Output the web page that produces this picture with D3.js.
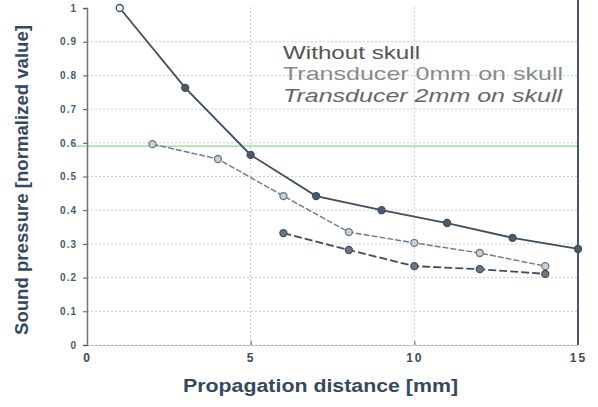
<!DOCTYPE html>
<html>
<head>
<meta charset="utf-8">
<script src="https://cdn.jsdelivr.net/npm/d3@7"></script>
<style>
  body { margin: 0; background: #fff; }
  text { font-family: "Liberation Sans", Arial, sans-serif; }
</style>
</head>
<body>
<div id="chart"></div>
<script>
// values
var seriesNames = ['Without skull', 'Transducer 0mm on skull', 'Transducer 2mm on skull'];
var withoutX = [1, 3, 5, 7, 9, 11, 13, 15];
var withoutY = [1.0, 0.763, 0.564, 0.442, 0.40, 0.362, 0.318, 0.285];
var t0X = [2, 4, 6, 8, 10, 12, 14];
var t0Y = [0.596, 0.552, 0.442, 0.335, 0.303, 0.273, 0.234];
var t2X = [6, 8, 10, 12, 14];
var t2Y = [0.332, 0.282, 0.234, 0.225, 0.211];
var xTicks = [0, 5, 10, 15];
var yTicks = [0, 0.1, 0.2, 0.3, 0.4, 0.5, 0.6, 0.7, 0.8, 0.9, 1];

var width = 598, height = 407;
var margin = {top: 8, right: 20, bottom: 62, left: 87};

var svg = d3.select('#chart').append('svg')
  .attr('width', width)
  .attr('height', height);

var x = d3.scaleLinear().domain([0, 15]).range([margin.left, width - margin.right]);
var y = d3.scaleLinear().domain([0, 1]).range([height - margin.bottom, margin.top]);

// grid
svg.append('g').selectAll('line')
  .data(yTicks.slice(1, -1))
  .enter().append('line')
  .attr('x1', x(0)).attr('x2', x(15))
  .attr('y1', function(d) { return y(d); })
  .attr('y2', function(d) { return y(d); })
  .attr('stroke', '#c8ccd0')
  .attr('stroke-dasharray', '2,2');

svg.append('g').selectAll('line')
  .data([5, 10])
  .enter().append('line')
  .attr('x1', function(d) { return x(d); })
  .attr('x2', function(d) { return x(d); })
  .attr('y1', y(0)).attr('y2', y(1) - 2)
  .attr('stroke', '#c8ccd0')
  .attr('stroke-dasharray', '2,2');

// green line
svg.append('line')
  .attr('x1', x(0) - 12).attr('x2', x(15))
  .attr('y1', y(0.59)).attr('y2', y(0.59))
  .attr('stroke', '#8ad88a')
  .attr('stroke-width', 1.2);

// axes
var xAxis = svg.append('g')
  .attr('transform', 'translate(0,' + y(0) + ')')
  .call(d3.axisBottom(x).tickValues(xTicks).tickSize(-4).tickPadding(8).tickFormat(d3.format('d')));
xAxis.select('.domain').attr('stroke', '#b0b4b8').attr('stroke-dasharray', '3,1');
xAxis.selectAll('.tick line').attr('stroke', '#555');
xAxis.selectAll('text')
  .attr('font-size', 12).attr('font-weight', 'bold').attr('fill', '#3c4a58')
  .attr('letter-spacing', 2);

var yAxis = svg.append('g')
  .attr('transform', 'translate(' + x(0) + ',0)')
  .call(d3.axisLeft(y).tickValues(yTicks).tickSize(4).tickPadding(6)
    .tickFormat(function(d) { return d === 0 || d === 1 ? d3.format('d')(d) : d3.format('.1f')(d); }));
yAxis.select('.domain').attr('stroke', '#6a7480').attr('stroke-width', 1.5);
yAxis.selectAll('.tick line').attr('stroke', '#555');
yAxis.selectAll('text')
  .attr('font-size', 10).attr('font-weight', 'bold').attr('fill', '#4a5a6a')
  .attr('letter-spacing', 1);

// right border
svg.append('line')
  .attr('x1', x(15)).attr('x2', x(15))
  .attr('y1', 0).attr('y2', y(0))
  .attr('stroke', '#4a5664')
  .attr('stroke-width', 2);

// series
var line = d3.line()
  .x(function(d) { return x(d[0]); })
  .y(function(d) { return y(d[1]); });

var series = [
  {xs: withoutX, ys: withoutY, color: '#3e4e5e', dash: null, fill: '#4a5a6a', width: 1.8},
  {xs: t0X, ys: t0Y, color: '#6a7886', dash: '6,2', fill: '#c8d0d8', width: 1.4},
  {xs: t2X, ys: t2Y, color: '#3e4e5e', dash: '8,3', fill: '#6a7886', width: 1.8}
];

series.forEach(function(s) {
  var pts = s.xs.map(function(v, i) { return [v, s.ys[i]]; });
  svg.append('path')
    .datum(pts)
    .attr('d', line)
    .attr('fill', 'none')
    .attr('stroke', s.color)
    .attr('stroke-width', s.width)
    .attr('stroke-dasharray', s.dash);
  svg.append('g').selectAll('circle')
    .data(pts)
    .enter().append('circle')
    .attr('cx', function(d) { return x(d[0]); })
    .attr('cy', function(d) { return y(d[1]); })
    .attr('r', 3.5)
    .attr('fill', function(d, i) { return (s === series[0] && i === 0) ? '#fff' : s.fill; })
    .attr('stroke', s.color)
    .attr('stroke-width', 1.3);
});

// legend
var legendStyle = [
  {color: '#555', italic: false, y: 59, len: 137},
  {color: '#8a8a8a', italic: false, y: 80, len: 280},
  {color: '#666', italic: true, y: 102, len: 279}
];
svg.append('g').selectAll('text')
  .data(seriesNames)
  .enter().append('text')
  .attr('x', 283)
  .attr('y', function(d, i) { return legendStyle[i].y; })
  .attr('font-size', 19)
  .attr('textLength', function(d, i) { return legendStyle[i].len; })
  .attr('lengthAdjust', 'spacingAndGlyphs')
  .attr('font-style', function(d, i) { return legendStyle[i].italic ? 'italic' : 'normal'; })
  .attr('fill', function(d, i) { return legendStyle[i].color; })
  .text(function(d) { return d; });

// axis titles
svg.append('text')
  .attr('x', 183).attr('y', 392)
  .attr('font-size', 18).attr('font-weight', 'bold')
  .attr('textLength', 275).attr('lengthAdjust', 'spacingAndGlyphs')
  .attr('fill', '#34495e')
  .text('Propagation distance [mm]');

svg.append('text')
  .attr('transform', 'translate(28,335) rotate(-90)')
  .attr('font-size', 17.5).attr('font-weight', 'bold')
  .attr('textLength', 310).attr('lengthAdjust', 'spacingAndGlyphs')
  .attr('fill', '#34495e')
  .text('Sound pressure [normalized value]');
</script>
</body>
</html>
